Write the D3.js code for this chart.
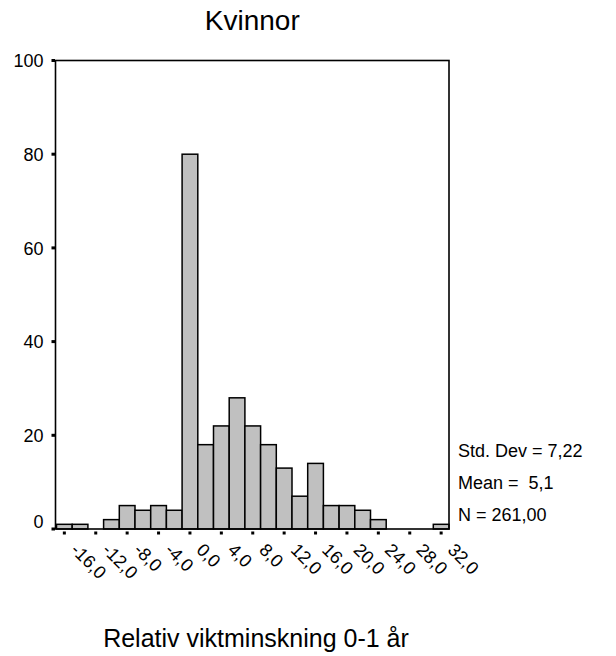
<!DOCTYPE html>
<html>
<head>
<meta charset="utf-8">
<script src="https://cdn.jsdelivr.net/npm/d3@7"></script>
<style>
  html, body { margin: 0; padding: 0; background: #fff; }
  svg { display: block; }
  text { font-family: "Liberation Sans", Arial, sans-serif; fill: #000; }
</style>
</head>
<body>
<svg id="chart" width="616" height="656"></svg>
<script>
// Histogram of relative weight loss, bins of width 2 centred on each value
const binCenters = [-16, -14, -12, -10, -8, -6, -4, -2, 0, 2, 4, 6, 8, 10, 12, 14, 16, 18, 20, 22, 24, 26, 28, 30, 32];
const counts     = [1, 1, 0, 2, 5, 4, 5, 4, 80, 18, 22, 28, 22, 18, 13, 7, 14, 5, 5, 4, 2, 0, 0, 0, 1];
const binWidth = 2;

const xTickValues = [-16, -12, -8, -4, 0, 4, 8, 12, 16, 20, 24, 28, 32];
const xTickLabels = ["-16,0", "-12,0", "-8,0", "-4,0", "0,0", "4,0", "8,0", "12,0", "16,0", "20,0", "24,0", "28,0", "32,0"];
const yTickValues = [0, 20, 40, 60, 80, 100];

const titleText = "Kvinnor";
const xAxisTitle = "Relativ viktminskning 0-1 år";
const statLines = ["Std. Dev = 7,22", "Mean =  5,1", "N = 261,00"];

const frame = { left: 55.5, right: 449, top: 60.5, bottom: 529 };

const svg = d3.select("#chart");

const x = d3.scaleLinear()
  .domain([binCenters[0] - binWidth / 2, binCenters[binCenters.length - 1] + binWidth / 2])
  .range([frame.left + 1, frame.right]);

const y = d3.scaleLinear()
  .domain([0, 100])
  .range([frame.bottom, frame.top]);

// Bars
const bins = binCenters.map((c, i) => ({ c, n: counts[i] })).filter(d => d.n > 0);
svg.append("g")
  .selectAll("rect")
  .data(bins)
  .join("rect")
  .attr("x", d => x(d.c - binWidth / 2))
  .attr("width", d => x(d.c + binWidth / 2) - x(d.c - binWidth / 2))
  .attr("y", d => y(d.n))
  .attr("height", d => y(0) - y(d.n))
  .attr("fill", "#c0c0c0")
  .attr("stroke", "#000")
  .attr("stroke-width", 1.5);

// Frame
svg.append("rect")
  .attr("x", frame.left)
  .attr("y", frame.top)
  .attr("width", frame.right - frame.left)
  .attr("height", frame.bottom - frame.top)
  .attr("fill", "none")
  .attr("stroke", "#000")
  .attr("stroke-width", 1.6);

// Y axis
const yAxis = svg.append("g")
  .attr("transform", `translate(${frame.left},0)`)
  .call(d3.axisLeft(y).tickValues(yTickValues).tickSize(0).tickPadding(12));
yAxis.select(".domain").remove();
yAxis.selectAll("text")
  .style("font-size", "18px")
  .attr("dy", d => d === 0 ? "-0.1em" : "0.34em");
// square tick markers
svg.append("g")
  .selectAll("rect")
  .data(yTickValues)
  .join("rect")
  .attr("x", frame.left - 4)
  .attr("y", d => y(d) - 1.5)
  .attr("width", 3.5)
  .attr("height", 3)
  .attr("fill", "#000");

// X axis
const xAxis = svg.append("g")
  .attr("transform", `translate(0,${frame.bottom})`)
  .call(d3.axisBottom(x).tickValues(xTickValues)
    .tickFormat((d, i) => xTickLabels[i]).tickSize(0));
xAxis.select(".domain").remove();
xAxis.selectAll("text")
  .style("font-size", "18px")
  .attr("x", 0)
  .attr("y", 0)
  .attr("dy", 0)
  .attr("text-anchor", "start")
  .attr("transform", "translate(5,22) rotate(45)");
svg.append("g")
  .selectAll("rect")
  .data(xTickValues)
  .join("rect")
  .attr("x", d => x(d) - 1.5)
  .attr("y", frame.bottom + 2.5)
  .attr("width", 3)
  .attr("height", 3)
  .attr("fill", "#000");

// Title
svg.append("text")
  .attr("x", (frame.left + frame.right) / 2)
  .attr("y", 30)
  .attr("text-anchor", "middle")
  .style("font-size", "28px")
  .text(titleText);

// X axis title
svg.append("text")
  .attr("x", 256)
  .attr("y", 647)
  .attr("text-anchor", "middle")
  .style("font-size", "25px")
  .text(xAxisTitle);

// Summary statistics
svg.append("g")
  .selectAll("text")
  .data(statLines)
  .join("text")
  .attr("x", 458)
  .attr("y", (d, i) => 457 + i * 32)
  .style("font-size", "18px")
  .style("white-space", "pre")
  .text(d => d);
</script>
</body>
</html>
